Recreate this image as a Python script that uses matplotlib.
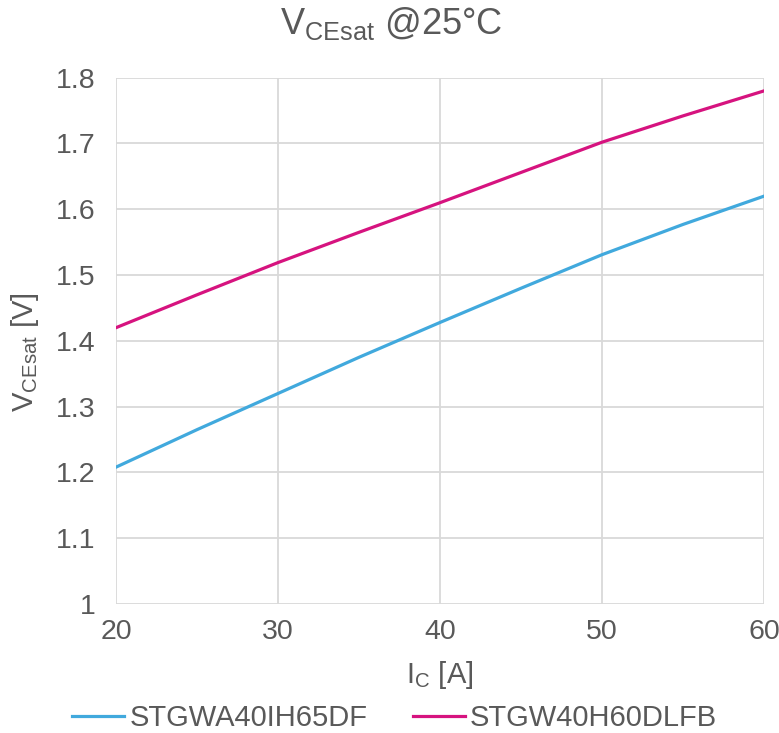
import numpy as np
import matplotlib
matplotlib.use('Agg')
import matplotlib.pyplot as plt

plt.rcParams['font.family'] = ['Liberation Sans', 'DejaVu Sans']
plt.rcParams['mathtext.fontset'] = 'custom'
plt.rcParams['mathtext.rm'] = 'Liberation Sans'

# data
ic = [20, 25, 30, 35, 40, 45, 50, 55, 60]
vce_ih65 = [1.208, 1.265, 1.320, 1.375, 1.428, 1.480, 1.531, 1.577, 1.620]
vce_h60 = [1.420, 1.470, 1.519, 1.565, 1.610, 1.656, 1.702, 1.742, 1.780]
labels = ['STGWA40IH65DF', 'STGW40H60DLFB']

text_col = '#595959'
grid_col = '#D9D9D9'

fig = plt.figure(figsize=(7.79, 7.33), dpi=100)
ax = fig.add_axes([0.1489, 0.176, 0.832, 0.718])

ax.plot(ic, vce_ih65, color='#41A9DD', lw=2.3, label=labels[0])
ax.plot(ic, vce_h60, color='#D6137F', lw=2.3, label=labels[1])

ax.set_xlim(20, 60)
ax.set_ylim(1, 1.8)
ax.set_xticks([20, 30, 40, 50, 60])
ax.set_yticks(np.arange(1, 1.81, 0.1))
ax.set_yticklabels(['1', '1.1', '1.2', '1.3', '1.4', '1.5', '1.6', '1.7', '1.8'])
ax.grid(True, color=grid_col, lw=1.3)
ax.set_axisbelow(True)
for s in ax.spines.values():
    s.set_visible(False)
ax.tick_params(length=0, labelsize=20.5, colors=text_col)
ax.tick_params(axis='x', pad=11)
ax.tick_params(axis='y', pad=15)

ax.set_xlabel(r'I$_{\mathregular{C}}$ [A]', fontsize=21, color=text_col, va='center')
ax.xaxis.set_label_coords(0.5, -0.135)
ax.set_ylabel(r'V$_{\mathregular{CEsat}}$ [V]', fontsize=21, color=text_col, va='center')
ax.yaxis.set_label_coords(-0.14, 0.479)

fig.text(0.502, 0.968, r'V$_{\mathregular{CEsat}}$ @25°C', fontsize=26,
         color=text_col, ha='center', va='center')

fig.legend(loc='center', ncol=2, frameon=False, fontsize=21,
           labelcolor=text_col, handlelength=1.8, handletextpad=0.17,
           columnspacing=1.55, bbox_to_anchor=(394.5 / 779, 0.0205))

fig.savefig('out.png', dpi=100)
